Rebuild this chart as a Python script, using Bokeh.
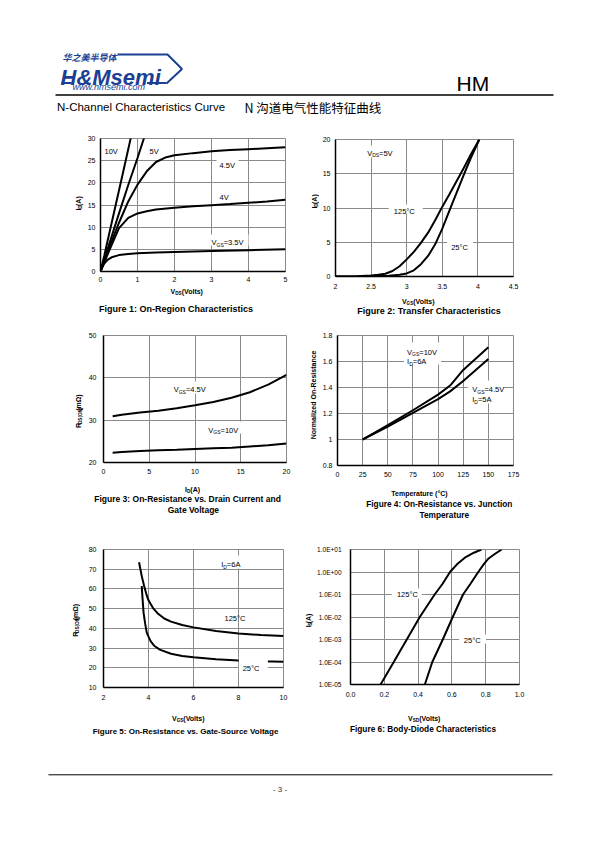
import math
from bokeh.plotting import figure
from bokeh.models import Range1d, FixedTicker, Label
from bokeh.layouts import column, row
from bokeh.embed import file_html
from bokeh.resources import INLINE
from bokeh.core.properties import value

FONT = "Liberation Sans"
CJK = "Noto Sans CJK SC"
GRID = "#8a8a8a"
NAVY = "#1b3f93"

# ---------------- data ----------------
# Figure 1: On-Region Characteristics
f1_xticks = [0, 1, 2, 3, 4, 5]
f1_xlabels = ["0", "1", "2", "3", "4", "5"]
f1_yticks = [0, 5, 10, 15, 20, 25, 30]
f1_ylabels = ["0", "5", "10", "15", "20", "25", "30"]
f1_vds_10v = [0, 0.1, 0.2, 0.4, 0.6, 0.82]
f1_id_10v = [0, 3.5, 7.2, 14.6, 22.0, 30.2]
f1_vds_5v = [0, 0.1, 0.25, 0.5, 0.75, 1.0, 1.18]
f1_id_5v = [0, 2.7, 6.6, 13.1, 19.5, 25.6, 30.2]
f1_vds_45v = [0, 0.1, 0.25, 0.5, 0.75, 1.0, 1.25, 1.5, 1.75, 2, 2.5, 3, 3.5, 4, 4.5, 5]
f1_id_45v = [0, 2.3, 5.7, 11.0, 15.8, 19.6, 22.6, 24.7, 25.7, 26.2, 26.7, 27.1, 27.4, 27.6, 27.8, 28.0]
f1_vds_4v = [0, 0.1, 0.25, 0.5, 0.75, 1.0, 1.25, 1.5, 2, 2.5, 3, 3.5, 4, 4.5, 5]
f1_id_4v = [0, 2.0, 5.0, 9.8, 12.1, 13.1, 13.6, 14.0, 14.4, 14.7, 14.95, 15.2, 15.5, 15.8, 16.2]
f1_vds_35v = [0, 0.05, 0.1, 0.2, 0.3, 0.5, 0.75, 1, 1.5, 2, 3, 4, 5]
f1_id_35v = [0, 1.0, 1.8, 2.7, 3.2, 3.7, 3.95, 4.1, 4.3, 4.4, 4.6, 4.8, 5.0]

# Figure 2: Transfer Characteristics
f2_xticks = [2, 2.5, 3, 3.5, 4, 4.5]
f2_xlabels = ["2", "2.5", "3", "3.5", "4", "4.5"]
f2_yticks = [0, 5, 10, 15, 20]
f2_ylabels = ["0", "5", "10", "15", "20"]
f2_vgs_125 = [2.0, 2.3, 2.5, 2.6, 2.7, 2.8, 2.9, 3.0, 3.1, 3.2, 3.3, 3.4, 3.5, 3.6, 3.7, 3.8, 3.9, 4.02]
f2_id_125 = [0, 0.05, 0.15, 0.25, 0.4, 0.8, 1.5, 2.5, 3.6, 4.9, 6.4, 8.2, 10.2, 12.0, 13.9, 15.8, 17.8, 20]
f2_vgs_25 = [2.0, 2.5, 2.75, 2.9, 3.0, 3.1, 3.2, 3.3, 3.4, 3.5, 3.6, 3.7, 3.8, 3.9, 4.02]
f2_id_25 = [0, 0.02, 0.1, 0.25, 0.45, 0.9, 1.8, 3.0, 4.7, 7.0, 9.6, 12.2, 14.8, 17.3, 20]

# Figure 3: On-Resistance vs. Drain Current and Gate Voltage
f3_xticks = [0, 5, 10, 15, 20]
f3_xlabels = ["0", "5", "10", "15", "20"]
f3_yticks = [20, 30, 40, 50]
f3_ylabels = ["20", "30", "40", "50"]
f3_id = [1, 2, 4, 6, 8, 10, 12, 14, 16, 18, 20]
f3_r_45v = [30.9, 31.3, 31.8, 32.2, 32.8, 33.5, 34.3, 35.3, 36.6, 38.4, 40.7]
f3_r_10v = [22.3, 22.5, 22.7, 22.9, 23.0, 23.2, 23.35, 23.5, 23.8, 24.1, 24.5]

# Figure 4: On-Resistance vs. Junction Temperature
f4_xticks = [0, 25, 50, 75, 100, 125, 150, 175]
f4_xlabels = ["0", "25", "50", "75", "100", "125", "150", "175"]
f4_yticks = [0.8, 1.0, 1.2, 1.4, 1.6, 1.8]
f4_ylabels = ["0.8", "1", "1.2", "1.4", "1.6", "1.8"]
f4_temp = [25, 50, 75, 100, 112, 125, 150]
f4_n_10v = [1.0, 1.11, 1.225, 1.345, 1.415, 1.535, 1.71]
f4_n_45v = [1.0, 1.10, 1.205, 1.31, 1.37, 1.45, 1.62]

# Figure 5: On-Resistance vs. Gate-Source Voltage
f5_xticks = [2, 4, 6, 8, 10]
f5_xlabels = ["2", "4", "6", "8", "10"]
f5_yticks = [10, 20, 30, 40, 50, 60, 70, 80]
f5_ylabels = ["10", "20", "30", "40", "50", "60", "70", "80"]
f5_vgs_125 = [3.58, 3.7, 3.8, 3.9, 4.0, 4.2, 4.4, 4.7, 5.0, 5.5, 6.0, 7.0, 8.0, 9.0, 10.0]
f5_r_125 = [73.5, 66.5, 61.7, 57.5, 54.2, 50.3, 47.7, 45.0, 43.4, 41.7, 40.5, 38.7, 37.4, 36.6, 36.1]
f5_vgs_25 = [3.70, 3.73, 3.78, 3.85, 3.92, 4.0, 4.1, 4.25, 4.5, 5.0, 5.5, 6.0, 7.0, 8.0, 9.0, 10.0]
f5_r_25 = [61.5, 56.0, 48.0, 42.5, 38.0, 35.8, 33.4, 31.2, 29.2, 27.1, 26.0, 25.3, 24.3, 23.7, 23.3, 23.0]

# Figure 6: Body-Diode Characteristics
f6_xticks = [0.0, 0.2, 0.4, 0.6, 0.8, 1.0]
f6_xlabels = ["0.0", "0.2", "0.4", "0.6", "0.8", "1.0"]
f6_yticks = [1e-5, 1e-4, 1e-3, 1e-2, 1e-1, 1e0, 1e1]
f6_ylabels = ["1.0E-05", "1.0E-04", "1.0E-03", "1.0E-02", "1.0E-01", "1.0E+00", "1.0E+01"]
f6_vsd_125 = [0.178, 0.256, 0.333, 0.41, 0.498, 0.545, 0.589, 0.63, 0.682, 0.73, 0.775]
f6_is_125 = [1e-5, 1e-4, 1e-3, 1e-2, 1e-1, 3e-1, 1.0, 2.2, 4.6, 7.2, 10]
f6_vsd_25 = [0.44, 0.484, 0.546, 0.605, 0.666, 0.71, 0.756, 0.79, 0.817, 0.86, 0.895]
f6_is_25 = [1e-5, 1e-4, 1e-3, 1e-2, 1e-1, 3e-1, 1.0, 2.3, 4.0, 6.8, 10]

# ---------------- helpers ----------------
WR = {' ': .278, '(': .333, ')': .333, '.': .278, '=': .584, 'A': .667, 'C': .722, 'D': .722,
      'G': .778, 'I': .278, 'N': .722, 'O': .778, 'R': .722, 'S': .667, 'T': .611, 'V': .667,
      'm': .833, 'Ω': .768, '°': .4, 'o': .556, 'l': .222, 't': .278, 's': .5}
WB = {' ': .278, '(': .333, ')': .333, '.': .278, '=': .584, 'A': .722, 'C': .722, 'D': .722,
      'G': .778, 'I': .278, 'N': .722, 'O': .778, 'R': .722, 'S': .667, 'T': .611, 'V': .667,
      'm': .889, 'Ω': .768, '°': .4, 'o': .611, 'l': .278, 't': .333, 's': .556}


def tw(s, size, bold):
    tab = WB if bold else WR
    return sum(tab.get(c, 0.556) for c in s) * size


def sheet(x0, x1, y0, y1):
    f = figure(width=x1 - x0, height=y1 - y0, x_range=Range1d(x0, x1), y_range=Range1d(-y1, -y0),
               x_axis_type=None, y_axis_type=None, min_border=0, outline_line_color=None,
               output_backend="svg", toolbar_location=None,
               background_fill_color="white", border_fill_color="white")
    return f


def stext(p, px, py, parts, size, bold=False, align="left", vertical=False):
    sub = size * 0.66
    ws = [tw(t, sub if s else size, bold) for t, s in parts]
    tot = sum(ws)
    adv = {"left": 0, "center": -tot / 2, "right": -tot}[align]
    for (t, s), w in zip(parts, ws):
        fs = sub if s else size
        dn = 0.3 * size if s else 0
        if vertical:
            x, y, ang = px + dn, py - adv, math.pi / 2
        else:
            x, y, ang = px + adv, py + dn, 0
        p.text(x=[x], y=[-y], text=[t], angle=ang, text_font=value(FONT),
               text_font_size=f"{fs:.1f}px", text_font_style="bold" if bold else "normal",
               text_color="black", text_align="left", text_baseline="alphabetic")
        adv += w


def make(band, frame, lb, bb, xr, yr, xt, xl, yt, yl, log=False, ystand=5, xstand=5, yfs=7):
    X0, X1, Y0, Y1 = band
    L, R, T, B = frame
    cx0 = L - lb
    cy1 = B + bb
    p = figure(width=X1 - cx0, height=cy1 - Y0, x_range=Range1d(*xr), y_range=Range1d(*yr),
               y_axis_type="log" if log else "linear",
               min_border_left=lb, min_border_right=X1 - R,
               min_border_top=T - Y0, min_border_bottom=bb,
               output_backend="svg", toolbar_location=None,
               outline_line_color=GRID, outline_line_width=1,
               background_fill_color="white", border_fill_color="white")
    p.xaxis.ticker = FixedTicker(ticks=xt)
    p.xaxis.major_label_overrides = {t: s for t, s in zip(xt, xl)}
    p.yaxis.ticker = FixedTicker(ticks=yt)
    p.yaxis.major_label_overrides = {t: s for t, s in zip(yt, yl)}
    for ax in list(p.xaxis) + list(p.yaxis):
        ax.axis_line_color = "black"
        ax.axis_line_width = 1.5
        ax.major_tick_out = 0
        ax.major_tick_in = 0
        ax.minor_tick_out = 0
        ax.minor_tick_in = 0
        ax.minor_tick_line_color = None
        ax.major_tick_line_color = None
        ax.major_label_text_font = FONT
        ax.major_label_text_color = "black"
        ax.major_label_text_font_size = "7px"
    p.xaxis.major_label_standoff = xstand
    p.yaxis.major_label_standoff = ystand
    p.yaxis.major_label_text_font_size = f"{yfs}px"
    p.grid.grid_line_color = GRID
    p.grid.grid_line_width = 1
    g = dict(L=L, R=R, T=T, B=B, xr=xr, yr=yr, log=log)
    ylab = sheet(X0, cx0, Y0, cy1)
    bot = sheet(X0, X1, cy1, Y1)
    return p, g, ylab, bot


def pg(g, px, py):
    x0, x1 = g['xr']
    y0, y1 = g['yr']
    x = x0 + (px - g['L']) / (g['R'] - g['L']) * (x1 - x0)
    f = (g['B'] - py) / (g['B'] - g['T'])
    if g['log']:
        y = 10 ** (math.log10(y0) + f * (math.log10(y1) - math.log10(y0)))
    else:
        y = y0 + f * (y1 - y0)
    return x, y


def rich(p, g, px, py, parts, size=7.5):
    sub = size * 0.66
    ws = [tw(t, sub if s else size, False) for t, s in parts]
    adv = 0
    x, y = pg(g, px, py)
    for (t, s), w in zip(parts, ws):
        fs = sub if s else size
        dn = 0.3 * size if s else 0
        p.add_layout(Label(x=x, y=y, x_offset=adv, y_offset=-dn, text=t,
                           text_font=FONT, text_font_size=f"{fs:.1f}px",
                           text_color="black", text_align="left",
                           text_baseline="alphabetic"))
        adv += w


def box(p, g, x0, x1, y0, y1):
    cx, cy = pg(g, (x0 + x1) / 2, (y0 + y1) / 2)
    p.rect(x=[cx], y=[cy], width=x1 - x0, height=y1 - y0,
           width_units="screen", height_units="screen",
           fill_color="white", line_color=None)


def curve(p, x, y):
    p.line(x, y, line_color="black", line_width=2)


def assemble(p, ylab, bot):
    return column(row(ylab, p), bot)


# ---------------- Figure 1 ----------------
p1, g1, y1s, b1s = make((0, 300, 128, 318), (100, 285, 138, 271), 16, 14, (0, 5), (0, 30),
                        f1_xticks, f1_xlabels, f1_yticks, f1_ylabels, xstand=5)
for xs, ys in [(f1_vds_10v, f1_id_10v), (f1_vds_5v, f1_id_5v), (f1_vds_45v, f1_id_45v),
               (f1_vds_4v, f1_id_4v), (f1_vds_35v, f1_id_35v)]:
    curve(p1, xs, ys)
box(p1, g1, 216, 238, 156, 167)
box(p1, g1, 208, 248, 234, 245)
rich(p1, g1, 104, 150.5, [("10V", 0)])
rich(p1, g1, 149, 150.5, [("5V", 0)])
rich(p1, g1, 219, 164.5, [("4.5V", 0)])
rich(p1, g1, 219, 197, [("4V", 0)])
rich(p1, g1, 211, 242, [("V", 0), ("GS", 1), ("=3.5V", 0)])
stext(y1s, 78, 204.5, [("I", 0), ("D", 1), (" (A)", 0)], 7, bold=True, align="center", vertical=True)
stext(b1s, 187.5, 290.5, [("V", 0), ("DS", 1), (" (Volts)", 0)], 7, bold=True, align="center")
stext(b1s, 183, 308, [("Figure 1: On-Region Characteristics", 0)], 9, bold=True, align="center")

# ---------------- Figure 2 ----------------
p2, g2, y2s, b2s = make((300, 595, 128, 318), (333, 513, 139, 276), 14, 16, (2, 4.5), (0, 20),
                        f2_xticks, f2_xlabels, f2_yticks, f2_ylabels, xstand=7)
curve(p2, f2_vgs_125, f2_id_125)
curve(p2, f2_vgs_25, f2_id_25)
box(p2, g2, 362, 396, 145, 157)
box(p2, g2, 387, 421, 204, 213)
box(p2, g2, 446, 472, 240, 249)
rich(p2, g2, 365, 152.5, [("V", 0), ("DS", 1), ("=5V", 0)])
rich(p2, g2, 392, 210.5, [("125°C", 0)])
rich(p2, g2, 450, 246.5, [("25°C", 0)])
stext(y2s, 314, 203, [("I", 0), ("D", 1), ("(A)", 0)], 7, bold=True, align="center", vertical=True)
stext(b2s, 418, 301, [("V", 0), ("GS", 1), ("(Volts)", 0)], 7, bold=True, align="center")
stext(b2s, 437, 310.5, [("Figure 2: Transfer Characteristics", 0)], 9, bold=True, align="center")

# ---------------- Figure 3 ----------------
p3, g3, y3s, b3s = make((0, 300, 318, 523), (101, 286, 335, 462), 16, 15, (0, 20), (20, 50),
                        f3_xticks, f3_xlabels, f3_yticks, f3_ylabels, ystand=7, xstand=6)
curve(p3, f3_id, f3_r_45v)
curve(p3, f3_id, f3_r_10v)
box(p3, g3, 169, 206, 381, 393)
box(p3, g3, 204, 243, 421, 433)
rich(p3, g3, 172, 389, [("V", 0), ("GS", 1), ("=4.5V", 0)])
rich(p3, g3, 207, 429.5, [("V", 0), ("GS", 1), ("=10V", 0)])
stext(y3s, 78, 414, [("R", 0), ("DS(ON)", 1), (" (mΩ)", 0)], 7, bold=True, align="center", vertical=True)
stext(b3s, 193, 489, [("I", 0), ("D", 1), (" (A)", 0)], 7, bold=True, align="center")
stext(b3s, 193, 498.5, [("Figure 3: On-Resistance vs. Drain Current and", 0)], 8.5, bold=True, align="center")
stext(b3s, 193, 509.5, [("Gate Voltage", 0)], 8.5, bold=True, align="center")

# ---------------- Figure 4 ----------------
p4, g4, y4s, b4s = make((300, 595, 318, 523), (336, 513, 335, 465), 17, 15, (0, 175), (0.8, 1.8),
                        f4_xticks, f4_xlabels, f4_yticks, f4_ylabels, xstand=6)
curve(p4, f4_temp, f4_n_10v)
curve(p4, f4_temp, f4_n_45v)
box(p4, g4, 403, 440, 342, 364)
box(p4, g4, 467, 503, 380, 403)
rich(p4, g4, 406, 351.5, [("V", 0), ("GS", 1), ("=10V", 0)])
rich(p4, g4, 406, 361, [("I", 0), ("D", 1), ("=6A", 0)])
rich(p4, g4, 471.5, 389, [("V", 0), ("GS", 1), ("=4.5V", 0)])
rich(p4, g4, 471.5, 399, [("I", 0), ("D", 1), ("=5A", 0)])
stext(y4s, 312.5, 400, [("Normalized On-Resistance", 0)], 7, bold=True, align="center", vertical=True)
stext(b4s, 420, 493, [("Temperature (°C)", 0)], 7, bold=True, align="center")
stext(b4s, 443, 503, [("Figure 4: On-Resistance vs. Junction", 0)], 8.3, bold=True, align="center")
stext(b4s, 445, 514, [("Temperature", 0)], 8.3, bold=True, align="center")

# ---------------- Figure 5 ----------------
p5, g5, y5s, b5s = make((0, 300, 523, 738), (101, 283, 549, 687), 16, 16, (2, 10), (10, 80),
                        f5_xticks, f5_xlabels, f5_yticks, f5_ylabels, ystand=7, xstand=7)
curve(p5, f5_vgs_125, f5_r_125)
curve(p5, f5_vgs_25, f5_r_25)
box(p5, g5, 217, 255, 555, 568)
box(p5, g5, 238, 267, 656, 672)
rich(p5, g5, 220, 564, [("I", 0), ("D", 1), ("=6A", 0)])
rich(p5, g5, 223.3, 617.5, [("125°C", 0)])
rich(p5, g5, 241.7, 667.5, [("25°C", 0)])
stext(y5s, 74.5, 617, [("R", 0), ("DS(ON)", 1), (" (mΩ)", 0)], 7, bold=True, align="center", vertical=True)
stext(b5s, 189, 717.5, [("V", 0), ("GS", 1), (" (Volts)", 0)], 7, bold=True, align="center")
stext(b5s, 190, 731, [("Figure 5: On-Resistance vs. Gate-Source Voltage", 0)], 8, bold=True, align="center")

# ---------------- Figure 6 ----------------
p6, g6, y6s, b6s = make((300, 595, 523, 738), (348, 519, 549, 684), 34, 16, (0, 1), (1e-5, 1e1),
                        f6_xticks, f6_xlabels, f6_yticks, f6_ylabels, log=True, ystand=9, xstand=7,
                        yfs=6.5)
curve(p6, f6_vsd_125, f6_is_125)
curve(p6, f6_vsd_25, f6_is_25)
box(p6, g6, 390, 420, 588, 598)
box(p6, g6, 458, 485, 634, 643)
rich(p6, g6, 395, 594, [("125°C", 0)])
rich(p6, g6, 462.7, 639.5, [("25°C", 0)])
stext(y6s, 308, 616.5, [("I", 0), ("S", 1), (" (A)", 0)], 7, bold=True, align="center", vertical=True)
stext(b6s, 425, 718, [("V", 0), ("SD", 1), (" (Volts)", 0)], 7, bold=True, align="center")
stext(b6s, 429, 728, [("Figure 6: Body-Diode Characteristics", 0)], 8.3, bold=True, align="center")

# ---------------- header / footer ----------------
hdr = sheet(0, 595, 0, 128)
hdr.text(x=[62], y=[-56.5], text=["华之美半导体"], text_font=value(CJK), text_font_size="9px",
         text_font_style="bold italic", text_color=NAVY, text_baseline="alphabetic")
hdr.line(x=[117, 167, 181.5, 166], y=[-54, -54, -68.5, -83], line_color=NAVY, line_width=2)
hdr.line(x=[61, 71], y=[-82.5, -82.5], line_color=NAVY, line_width=2)
hdr.line(x=[146.5, 166], y=[-82.5, -82.5], line_color=NAVY, line_width=2)
hdr.text(x=[60], y=[-77], text=["H&Msemi"], text_font=value(FONT), text_font_size="22px",
         text_font_style="bold italic", text_color=NAVY, text_baseline="alphabetic")
hdr.text(x=[72], y=[-86.5], text=["www.hmsemi.com"], text_font=value(FONT), text_font_size="9px",
         text_font_style="italic", text_color=NAVY, text_baseline="alphabetic")
hdr.text(x=[456], y=[-82.5], text=["HM"], text_font=value(FONT), text_font_size="21px",
         text_color="black", text_baseline="alphabetic")
hdr.line(x=[55, 553], y=[-94.5, -94.5], line_color="black", line_width=1.5)
hdr.text(x=[56.5], y=[-106.5], text=["N-Channel Characteristics Curve"], text_font=value(FONT),
         text_font_size="11.5px", text_color="black", text_baseline="alphabetic")
hdr.text(x=[244], y=[-106.5], text=["N 沟道电气性能特征曲线"], text_font=value(CJK),
         text_font_size="12.5px", text_color="black", text_baseline="alphabetic")

ftr = sheet(0, 595, 738, 842)
ftr.line(x=[48, 552], y=[-774.3, -774.3], line_color="black", line_width=1)
ftr.text(x=[279.5], y=[-789], text=["- 3 -"], text_font=value(FONT), text_font_size="8px",
         text_color="#333333", text_align="center", text_baseline="alphabetic")

band1 = row(assemble(p1, y1s, b1s), assemble(p2, y2s, b2s))
band2 = row(assemble(p3, y3s, b3s), assemble(p4, y4s, b4s))
band3 = row(assemble(p5, y5s, b5s), assemble(p6, y6s, b6s))
layout = column(hdr, band1, band2, band3, ftr)
open("out.html", "w").write(file_html(layout, INLINE))
